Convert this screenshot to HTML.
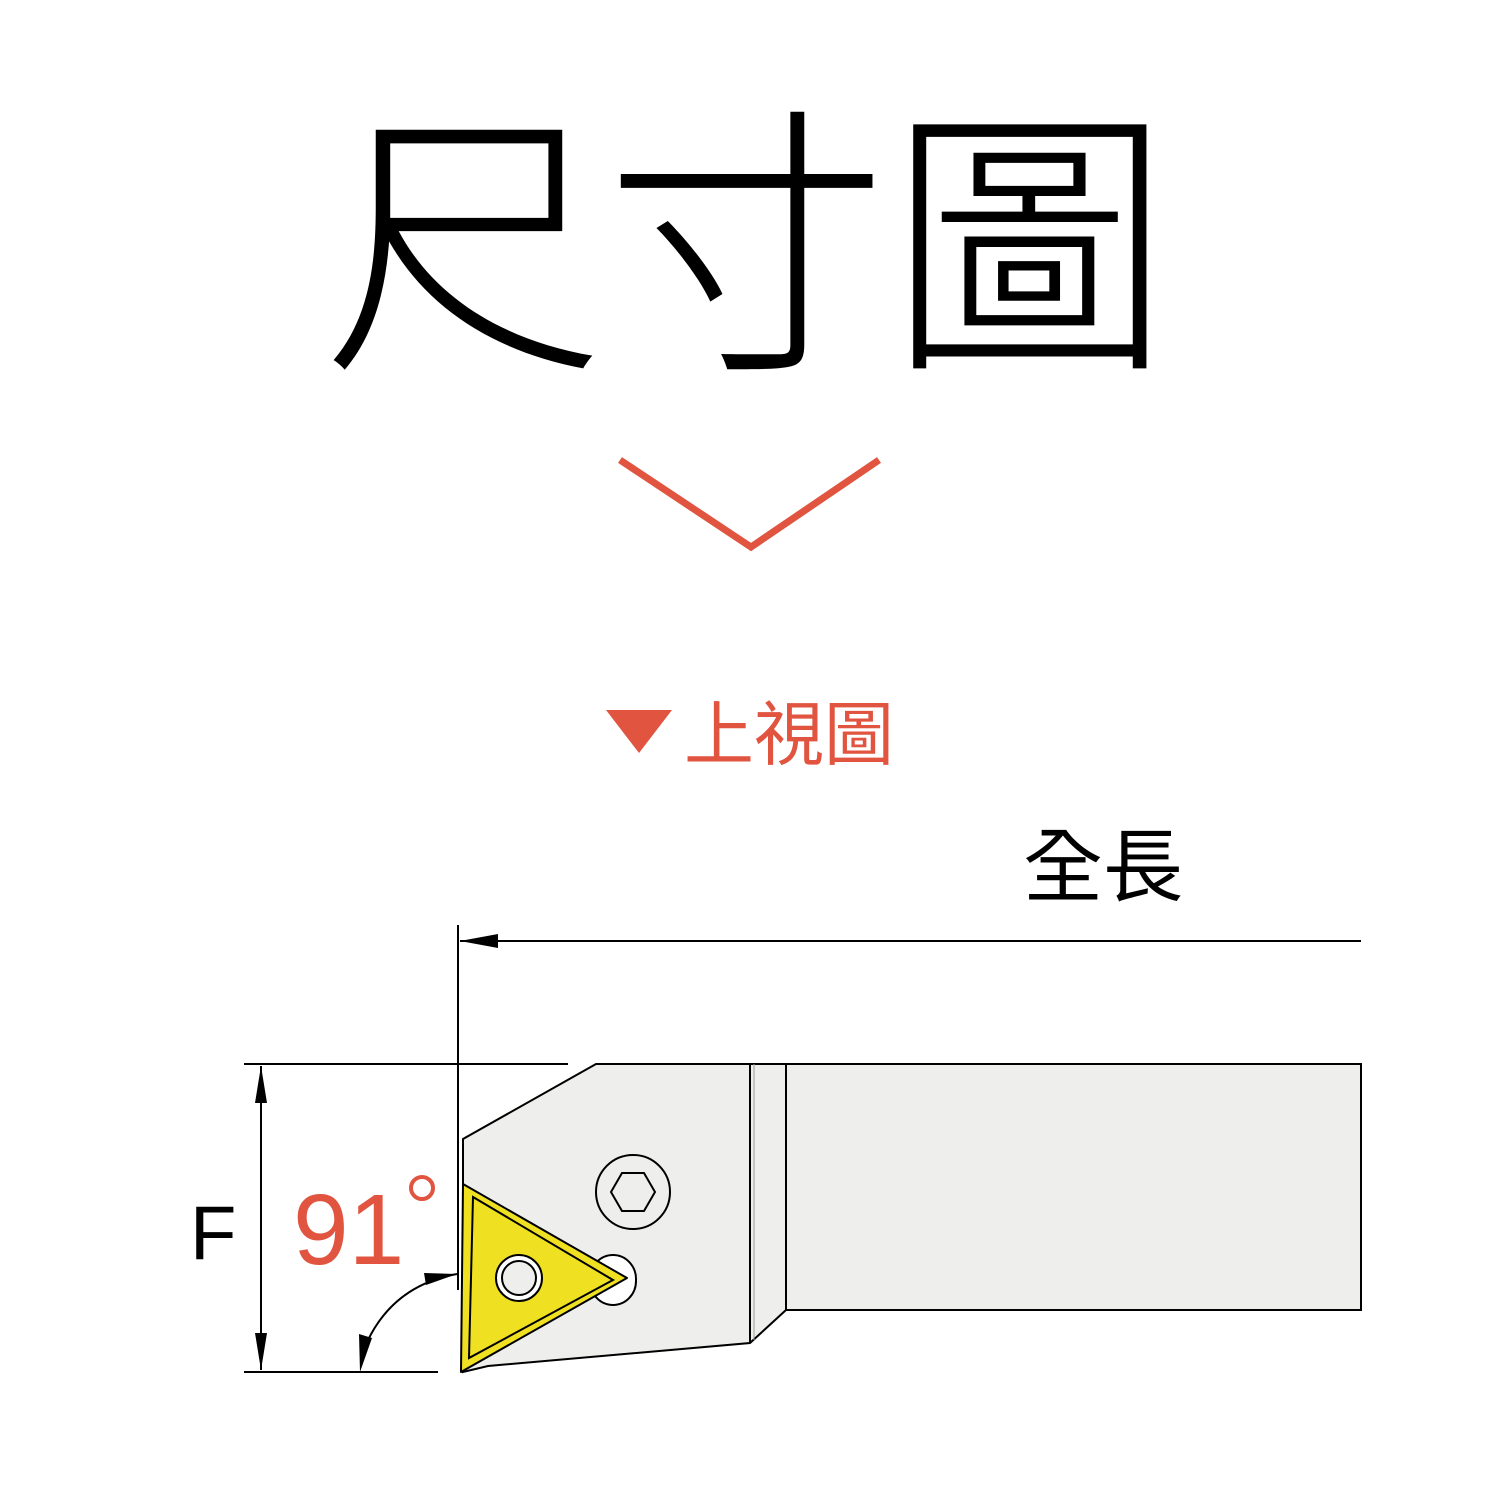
<!DOCTYPE html>
<html><head><meta charset="utf-8"><style>
html,body{margin:0;padding:0;background:#fff;}
body{width:1500px;height:1500px;position:relative;overflow:hidden;}
.t{position:absolute;white-space:nowrap;line-height:1;}
</style></head><body>
<div class="t" style="left:322px;top:109px;width:830px;text-align:center;font-size:283px;font-family:'Liberation Sans','Noto Sans CJK TC',sans-serif;font-weight:300;color:#000;">尺寸圖</div>
<div class="t" style="left:684px;top:700px;font-size:70px;font-family:'Liberation Sans','Noto Sans CJK TC',sans-serif;color:#e05440;">上視圖</div>
<div class="t" style="left:1023px;top:828px;font-size:80px;font-family:'Liberation Sans','Noto Sans CJK TC',sans-serif;color:#000;">全長</div>
<div class="t" style="left:190px;top:1196px;font-size:76px;font-family:'Liberation Sans',sans-serif;color:#000;">F</div>
<div class="t" style="left:293px;top:1180px;font-size:100px;font-family:'Liberation Sans',sans-serif;color:#e05440;">91</div>
<svg width="1500" height="1500" style="position:absolute;left:0;top:0">
<polyline points="620,460 751,547 879,460" fill="none" stroke="#e05440" stroke-width="7"/>
<polygon points="606,710 672,710 639,753" fill="#e05440"/>
<circle cx="422" cy="1188" r="11" fill="none" stroke="#e05440" stroke-width="4"/>
<polygon points="596,1064 1361,1064 1361,1310 786,1310 750,1343 488,1366 463,1372 463,1186 463,1139" fill="#eeeeec" stroke="#000" stroke-width="2"/>
<line x1="750" y1="1064" x2="750" y2="1343" stroke="#000" stroke-width="2"/>
<line x1="786" y1="1064" x2="786" y2="1310" stroke="#000" stroke-width="2"/>
<line x1="754" y1="1064" x2="754" y2="1340" stroke="#999" stroke-width="1"/>
<circle cx="633" cy="1192" r="37" fill="none" stroke="#000" stroke-width="2"/>
<polygon points="611,1192 622,1173 644,1173 655,1192 644,1211 622,1211" fill="none" stroke="#000" stroke-width="2"/>
<rect x="590" y="1255" width="46" height="50" rx="24" fill="#fff" stroke="#000" stroke-width="2"/>
<polygon points="463,1184 627,1278 461,1372" fill="#f0e022" stroke="#000" stroke-width="2" stroke-linejoin="round"/>
<polygon points="473,1197 613,1280 469,1358" fill="none" stroke="#000" stroke-width="2"/>
<circle cx="519" cy="1278" r="23" fill="#fff" stroke="#000" stroke-width="2"/>
<circle cx="519" cy="1278" r="17" fill="#eeeeec" stroke="#000" stroke-width="2"/>
<line x1="458" y1="925" x2="458" y2="1290" stroke="#000" stroke-width="2"/>
<line x1="460" y1="941" x2="1361" y2="941" stroke="#000" stroke-width="2"/>
<polygon points="460,941 498,934 498,948" fill="#000"/>
<line x1="244" y1="1064" x2="568" y2="1064" stroke="#000" stroke-width="2"/>
<line x1="244" y1="1372" x2="438" y2="1372" stroke="#000" stroke-width="2"/>
<line x1="261" y1="1066" x2="261" y2="1370" stroke="#000" stroke-width="2"/>
<polygon points="261,1066 255,1103 267,1103" fill="#000"/>
<polygon points="261,1370 255,1333 267,1333" fill="#000"/>
<path d="M457,1274 Q395,1285 368,1340" fill="none" stroke="#000" stroke-width="2"/>
<polygon points="457,1274 424,1273 426,1285" fill="#000"/>
<polygon points="360,1372 359,1334 372,1338" fill="#000"/>
</svg>
</body></html>
